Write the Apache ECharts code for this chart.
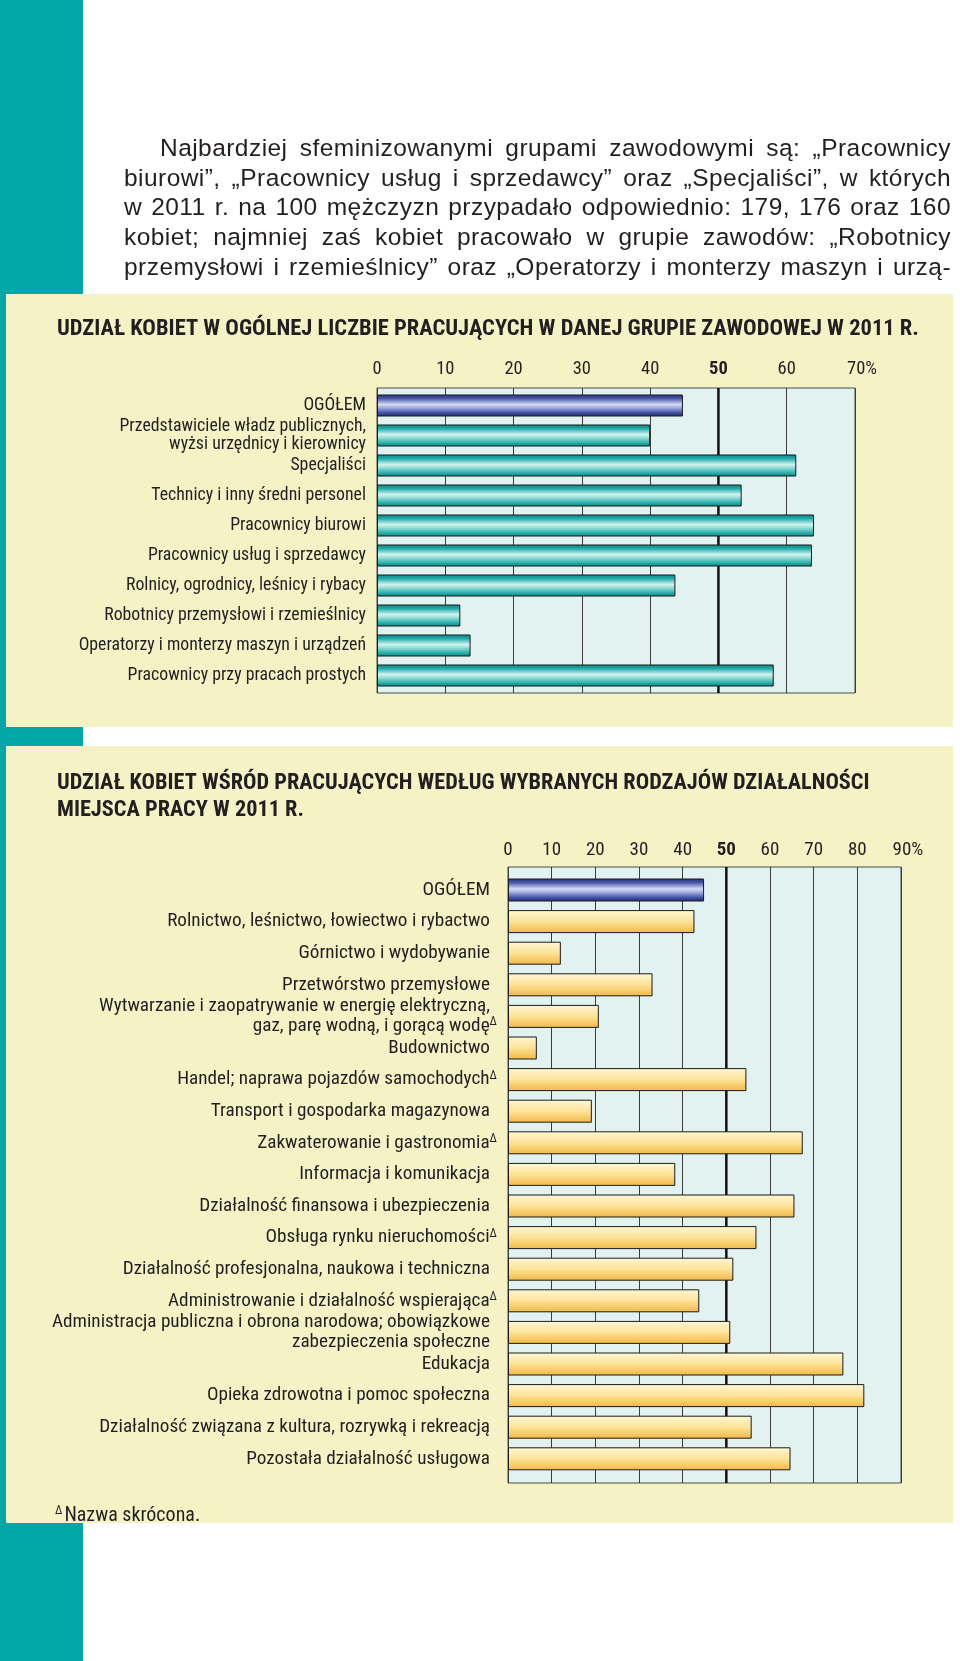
<!DOCTYPE html>
<html>
<head>
<meta charset="utf-8">
<script src="https://cdn.jsdelivr.net/npm/echarts@6/dist/echarts.min.js"></script>
<style>
  html,body{margin:0;padding:0;background:#fff;}
  #page{position:relative;width:960px;height:1661px;overflow:hidden;background:#fff;}
  .strip{position:absolute;left:0;top:0;width:83px;height:1661px;background:#00a7a6;}
  .panel{position:absolute;left:6px;width:947px;background:#f5f3c6;}
  #chart{position:absolute;left:0;top:0;width:960px;height:1661px;}
  #para{position:absolute;left:124px;top:133px;width:827px;font-family:'Liberation Sans',Arial,sans-serif;font-size:24.5px;letter-spacing:0.45px;line-height:29.7px;color:#231f20;}
  #para div{text-align:justify;text-align-last:justify;white-space:nowrap;}
</style>
</head>
<body>
<div id="page">
  <div class="strip"></div>
  <div class="panel" style="top:294px;height:433px;"></div>
  <div class="panel" style="top:746px;height:777px;"></div>
  <div id="chart"></div>
  <div id="para">
    <div style="padding-left:36px;">Najbardziej sfeminizowanymi grupami zawodowymi są: „Pracownicy</div>
    <div>biurowi”, „Pracownicy usług i sprzedawcy” oraz „Specjaliści”, w których</div>
    <div>w 2011 r. na 100 mężczyzn przypadało odpowiednio: 179, 176 oraz 160</div>
    <div>kobiet; najmniej zaś kobiet pracowało w grupie zawodów: „Robotnicy</div>
    <div>przemysłowi i rzemieślnicy” oraz „Operatorzy i monterzy maszyn i urzą-</div>
  </div>
</div>
<script>
// ---------- DATA ----------
const title1 = 'UDZIAŁ KOBIET W OGÓLNEJ LICZBIE PRACUJĄCYCH W DANEJ GRUPIE ZAWODOWEJ W 2011 R.';
const categories1 = [
  'OGÓŁEM',
  'Przedstawiciele władz publicznych,\nwyżsi urzędnicy i kierownicy',
  'Specjaliści',
  'Technicy i inny średni personel',
  'Pracownicy biurowi',
  'Pracownicy usług i sprzedawcy',
  'Rolnicy, ogrodnicy, leśnicy i rybacy',
  'Robotnicy przemysłowi i rzemieślnicy',
  'Operatorzy i monterzy maszyn i urządzeń',
  'Pracownicy przy pracach prostych'
];
const values1 = [44.8, 40.0, 61.4, 53.4, 64.0, 63.7, 43.7, 12.2, 13.7, 58.1];
const ticks1 = [0, 10, 20, 30, 40, 50, 60, 70];

const title2 = 'UDZIAŁ KOBIET WŚRÓD PRACUJĄCYCH WEDŁUG WYBRANYCH RODZAJÓW DZIAŁALNOŚCI\nMIEJSCA PRACY W 2011 R.';
const categories2 = [
  'OGÓŁEM',
  'Rolnictwo, leśnictwo, łowiectwo i rybactwo',
  'Górnictwo i wydobywanie',
  'Przetwórstwo przemysłowe',
  'Wytwarzanie i zaopatrywanie w energię elektryczną,\ngaz, parę wodną, i gorącą wodęΔ',
  'Budownictwo',
  'Handel; naprawa pojazdów samochodychΔ',
  'Transport i gospodarka magazynowa',
  'Zakwaterowanie i gastronomiaΔ',
  'Informacja i komunikacja',
  'Działalność finansowa i ubezpieczenia',
  'Obsługa rynku nieruchomościΔ',
  'Działalność profesjonalna, naukowa i techniczna',
  'Administrowanie i działalność wspierającaΔ',
  'Administracja publiczna i obrona narodowa; obowiązkowe\nzabezpieczenia społeczne',
  'Edukacja',
  'Opieka zdrowotna i pomoc społeczna',
  'Działalność związana z kultura, rozrywką i rekreacją',
  'Pozostała działalność usługowa'
];
const values2 = [44.9, 42.7, 12.1, 33.1, 20.8, 6.6, 54.6, 19.2, 67.5, 38.3, 65.6, 56.9, 51.6, 43.8, 50.9, 76.8, 81.6, 55.8, 64.7];
const ticks2 = [0, 10, 20, 30, 40, 50, 60, 70, 80, 90];
const footnote = 'Nazwa skrócona.';

// ---------- STYLE ----------
const FN = "'Liberation Sans Narrow','Arial Narrow','Roboto Condensed','Liberation Sans',sans-serif";
const TXT = '#231f20';
const G = echarts.graphic.LinearGradient;
const blueGrad = new G(0,0,0,1,[
  {offset:0,color:'#27327c'},{offset:0.18,color:'#4a57a8'},{offset:0.45,color:'#d3dbf6'},
  {offset:0.58,color:'#a9b4e2'},{offset:0.85,color:'#3e4b9e'},{offset:1,color:'#232d74'}]);
const tealGrad = new G(0,0,0,1,[
  {offset:0,color:'#0a8583'},{offset:0.18,color:'#1fa9a6'},{offset:0.45,color:'#d0f3ef'},
  {offset:0.58,color:'#a0e0da'},{offset:0.85,color:'#22aca8'},{offset:1,color:'#0a807e'}]);
const yellowGrad = new G(0,0,0,1,[
  {offset:0,color:'#fff7d4'},{offset:0.5,color:'#fde298'},{offset:1,color:'#f2b844'}]);

function catFmt(s){
  return s.split('\n').map(function(line){
    if (line.endsWith('Δ')) return '{t|' + line.slice(0,-1) + '}{s|Δ}';
    return '{t|' + line + '}{sp| }';
  }).join('\n');
}
function tickFmt(maxV){
  return function(v){
    if (v === 50) return '{b|50}';
    if (v === maxV) return '{p|' + v + '%}';
    return '{n|' + v + '}';
  };
}
function tickRich(fs){
  return {
    n:{fontSize:fs,fontFamily:FN,color:TXT},
    b:{fontSize:fs,fontFamily:FN,color:TXT,fontWeight:'bold'},
    p:{fontSize:fs,fontFamily:FN,color:TXT,padding:[0,0,0,14]}
  };
}

const chart = echarts.init(document.getElementById('chart'), null, {renderer:'canvas'});

const option = {
  backgroundColor: 'transparent',
  animation: false,
  title: [
    {text:title1,left:52,top:313,textStyle:{fontFamily:FN,fontSize:22.5,fontWeight:'bold',color:TXT}},
    {text:title2,left:52,top:765,textStyle:{fontFamily:FN,fontSize:22.3,fontWeight:'bold',color:TXT,lineHeight:27}},
    {text:'{s|Δ}{t|' + footnote + '}',left:50,top:1500,textStyle:{fontWeight:'normal',rich:{
      s:{fontSize:12,fontFamily:FN,color:TXT,fontWeight:'normal',verticalAlign:'top',lineHeight:12,padding:[0,2,0,0]},
      t:{fontSize:20,fontFamily:FN,color:TXT,fontWeight:'normal',lineHeight:22}}}}
  ],
  grid: [
    {left:377,width:478,top:388,height:305,show:true,backgroundColor:'#e2f2f0',borderColor:'#4a4a4a',borderWidth:1,containLabel:false},
    {left:377,width:478,top:390.5,height:300,containLabel:false},
    {left:508,width:393,top:867,height:616,show:true,backgroundColor:'#e2f2f0',borderColor:'#4a4a4a',borderWidth:1,containLabel:false},
    {left:508,width:393,top:874.2,height:600.4,containLabel:false}
  ],
  xAxis: [
    {gridIndex:0,type:'value',min:0,max:70,interval:10,position:'top',
     axisLine:{show:false},axisTick:{show:false},
     splitLine:{show:true,lineStyle:{color:'#3c3c3c',width:1}},
     axisLabel:{margin:9,formatter:tickFmt(70),rich:tickRich(18.5)}},
    {gridIndex:1,type:'value',min:0,max:70,show:false,splitLine:{show:false}},
    {gridIndex:2,type:'value',min:0,max:90,interval:10,position:'top',
     axisLine:{show:false},axisTick:{show:false},
     splitLine:{show:true,lineStyle:{color:'#3c3c3c',width:1}},
     axisLabel:{margin:7,formatter:tickFmt(90),rich:tickRich(19)}},
    {gridIndex:3,type:'value',min:0,max:90,show:false,splitLine:{show:false}}
  ],
  yAxis: [
    {gridIndex:0,type:'value',min:0,max:1,show:false,splitLine:{show:false}},
    {gridIndex:1,type:'category',inverse:true,data:categories1,
     axisLine:{show:false},axisTick:{show:false},
     axisLabel:{margin:4,formatter:catFmt,rich:{
       t:{fontSize:17.8,fontFamily:FN,color:TXT,lineHeight:18.5},
       s:{fontSize:12,fontFamily:FN,color:TXT,verticalAlign:'top',lineHeight:10},
       sp:{width:7,fontSize:10}}}},
    {gridIndex:2,type:'value',min:0,max:1,show:false,splitLine:{show:false}},
    {gridIndex:3,type:'category',inverse:true,data:categories2,
     axisLine:{show:false},axisTick:{show:false},
     axisLabel:{margin:11,formatter:catFmt,rich:{
       t:{fontSize:19.2,fontFamily:FN,color:TXT,lineHeight:20},
       s:{fontSize:12,fontFamily:FN,color:TXT,verticalAlign:'top',lineHeight:10},
       sp:{width:7,fontSize:10}}}}
  ],
  series: [
    {type:'line',xAxisIndex:0,yAxisIndex:0,data:[[50,0],[50,1]],symbol:'none',silent:true,
     lineStyle:{color:'#111',width:2.5},z:1},
    {type:'bar',xAxisIndex:1,yAxisIndex:1,barWidth:22,silent:true,z:3,
     data:values1.map(function(v,i){return {value:v,itemStyle:{color:i===0?blueGrad:tealGrad}};}),
     itemStyle:{borderColor:'#1b1b1b',borderWidth:1}},
    {type:'line',xAxisIndex:2,yAxisIndex:2,data:[[50,0],[50,1]],symbol:'none',silent:true,
     lineStyle:{color:'#111',width:2.5},z:1},
    {type:'bar',xAxisIndex:3,yAxisIndex:3,barWidth:23,silent:true,z:3,
     data:values2.map(function(v,i){return {value:v,itemStyle:{color:i===0?blueGrad:yellowGrad}};}),
     itemStyle:{borderColor:'#1b1b1b',borderWidth:1}}
  ]
};
chart.setOption(option);
</script>
</body>
</html>
